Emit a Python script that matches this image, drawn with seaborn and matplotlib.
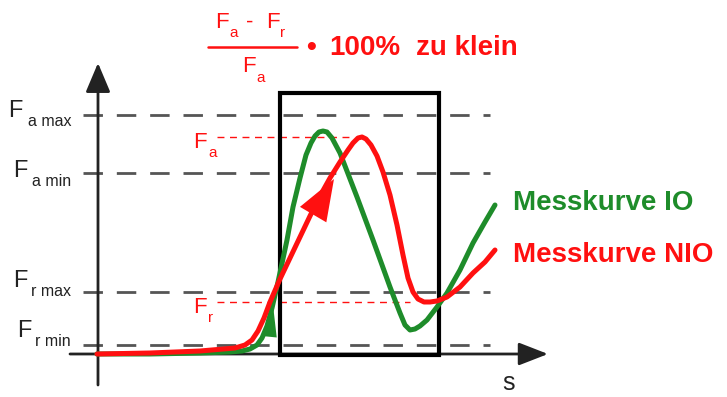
import pandas as pd
import matplotlib
matplotlib.use("Agg")
import matplotlib.pyplot as plt
import seaborn as sns
from matplotlib.patches import Rectangle

# Diagram is laid out in pixel units of the 727x397 picture (y grows downwards)
W, H = 727, 397

green_x = [97, 150, 200, 230, 242, 250, 257, 262, 267, 272, 278, 287, 293, 300, 306,
           311, 315, 319, 323, 327, 332, 340, 357, 373, 390, 400, 405, 410, 415, 420,
           427, 437, 447, 460, 473, 485, 495]
green_y = [354, 354, 353, 352, 351, 349, 345, 338, 326, 308, 282, 240, 207, 178, 155,
           143, 136, 132, 131, 132, 138, 153, 197, 240, 287, 313, 325, 330, 329, 326,
           320, 307, 293, 270, 243, 222, 205]

red_x = [97, 150, 200, 235, 245, 252, 258, 264, 270, 280, 290, 300, 310, 320, 330, 340,
         348, 353, 358, 362, 366, 371, 377, 383, 390, 397, 403, 408, 413, 418, 424, 430,
         437, 447, 460, 473, 485, 495]
red_y = [354, 353, 351, 348, 345, 340, 331, 318, 302, 279, 258, 237, 216, 196, 178, 162,
         150, 143, 138, 137, 139, 145, 156, 172, 195, 225, 255, 278, 292, 299, 302, 302,
         301, 297, 287, 273, 262, 250]

# limit levels (gray dashed) and measured levels (red dashed)
limit_levels = [115, 173, 292, 345]
limit_names = ["a max", "a min", "r max", "r min"]
measured_levels = [137, 302]
measured_names = ["a", "r"]
measured_ends = [352, 410]

# evaluation window
window_x = [280, 439]
window_y = [93, 355]

GREEN = "#1e8c2a"
RED = "#ff1010"
GRAY = "#555555"
DARK = "#222222"

sns.set_style("white")
plt.rcParams["font.family"] = ["Liberation Sans", "DejaVu Sans"]

fig = plt.figure(figsize=(7.27, 3.97), dpi=100)
ax = fig.add_axes([0, 0, 1, 1])

# gray limit lines
ax.hlines(limit_levels, 83, 490, colors=GRAY, lw=2.0, linestyles=(0, (7, 5)), zorder=1)

# red measured lines
for lvl, end in zip(measured_levels, measured_ends):
    ax.hlines(lvl, 217, end, colors=RED, lw=1.0, linestyles=(0, (5, 4)), zorder=1)

# axes with arrows
ax.annotate("", xy=(548, 354), xytext=(70, 354),
            arrowprops=dict(arrowstyle="-|>,head_length=0.9,head_width=0.35",
                            mutation_scale=20, lw=2, color=DARK, shrinkA=0, shrinkB=0), zorder=2)
ax.annotate("", xy=(98, 63), xytext=(98, 385),
            arrowprops=dict(arrowstyle="-|>,head_length=0.9,head_width=0.38",
                            mutation_scale=20, lw=2, color=DARK, shrinkA=0, shrinkB=0), zorder=2)

# window box
ax.add_patch(Rectangle((window_x[0], window_y[0]), window_x[1] - window_x[0],
                       window_y[1] - window_y[0], fill=False, lw=3, ec="black", zorder=3))

# curves
df_g = pd.DataFrame({"x": green_x, "y": green_y})
df_r = pd.DataFrame({"x": red_x, "y": red_y})
sns.lineplot(data=df_g, x="x", y="y", sort=False, color=GREEN, lw=3.6, ax=ax, zorder=4,
             solid_joinstyle="round", solid_capstyle="round")
sns.lineplot(data=df_r, x="x", y="y", sort=False, color=RED, lw=3.6, ax=ax, zorder=5,
             solid_joinstyle="round", solid_capstyle="round")
ax.set_xlim(0, W)
ax.set_ylim(H, 0)
ax.axis("off")

# direction arrowheads on the curves
ax.annotate("", xy=(273, 305), xytext=(269, 345),
            arrowprops=dict(arrowstyle="-|>,head_length=1.15,head_width=0.25",
                            mutation_scale=20, lw=0, color=GREEN, shrinkA=0, shrinkB=0), zorder=4)
ax.annotate("", xy=(334, 179), xytext=(300, 237),
            arrowprops=dict(arrowstyle="-|>,head_length=1.35,head_width=0.5",
                            mutation_scale=22, lw=0, color=RED, shrinkA=0, shrinkB=0), zorder=5)

# left labels
F_pos = [(8, 117), (13, 177), (13, 287), (17, 337)]
for (fx, fy), name in zip(F_pos, limit_names):
    ax.text(fx, fy, "F", fontsize=17, color=DARK, ha="left", va="baseline")
    ax.text(71, fy + 9, name, fontsize=11.5, color=DARK, ha="right", va="baseline")

# red measured labels
for name, fy in zip(measured_names, [148, 313]):
    ax.text(193, fy, "F", fontsize=16, color=RED, ha="left", va="baseline")
    ax.text(208, fy + 9, name, fontsize=11, color=RED, ha="left", va="baseline")

# formula on top
ax.text(215, 28, "F", fontsize=16, color=RED, ha="left", va="baseline")
ax.text(229, 37, "a", fontsize=11, color=RED, ha="left", va="baseline")
ax.text(246, 28, "-", fontsize=16, color=RED, ha="left", va="baseline")
ax.text(266, 28, "F", fontsize=16, color=RED, ha="left", va="baseline")
ax.text(280, 37, "r", fontsize=11, color=RED, ha="left", va="baseline")
ax.plot([208, 297], [47, 47], color=RED, lw=1.8)
ax.text(242, 72, "F", fontsize=16, color=RED, ha="left", va="baseline")
ax.text(256, 82, "a", fontsize=11, color=RED, ha="left", va="baseline")
ax.text(306, 55, "\u2022", fontsize=20, fontweight="bold", color=RED, ha="left", va="baseline")
ax.text(329, 55, "100%", fontsize=20, fontweight="bold", color=RED, ha="left", va="baseline")
ax.text(416, 55, "zu klein", fontsize=20, fontweight="bold", color=RED, ha="left", va="baseline")

# legend texts
ax.text(513, 210, "Messkurve IO", fontsize=20, fontweight="bold", color=GREEN,
        ha="left", va="baseline")
ax.text(513, 262, "Messkurve NIO", fontsize=20, fontweight="bold", color=RED,
        ha="left", va="baseline")

ax.text(502, 390, "s", fontsize=18, color=DARK, ha="left", va="baseline")

fig.savefig("out.png", dpi=100)
